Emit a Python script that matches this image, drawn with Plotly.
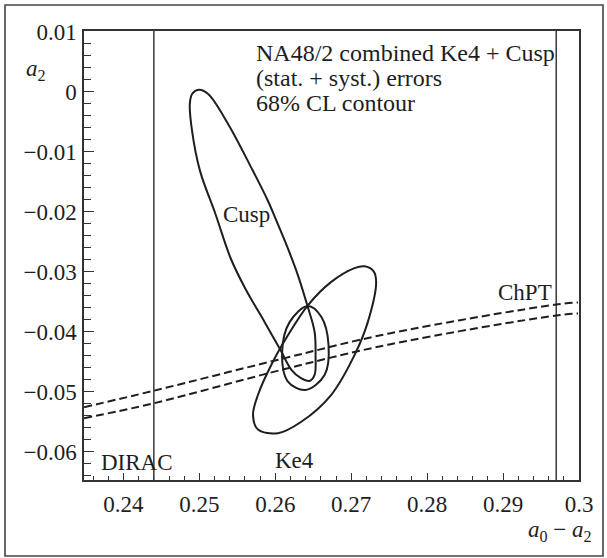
import plotly.graph_objects as go

# ---- data ----
cusp_x = [0.26451, 0.26517, 0.26530, 0.26517, 0.26421, 0.26298, 0.26211, 0.26123, 0.26014,
          0.25899, 0.25685, 0.25374, 0.25115, 0.24990, 0.24904, 0.24874, 0.24903, 0.25008,
          0.25209, 0.25413, 0.25604, 0.25860, 0.26070, 0.26215, 0.26333, 0.26451]
cusp_y = [-0.0482, -0.0472, -0.0439, -0.0400, -0.0356, -0.0306, -0.0276, -0.0248, -0.0215,
          -0.0181, -0.0127, -0.0053, -0.0004, 0.0003, -0.0004, -0.0020, -0.0065, -0.0132,
          -0.0203, -0.0278, -0.0328, -0.0384, -0.0431, -0.0464, -0.0477, -0.0482]

ke4_x = [0.27328, 0.27218, 0.27043, 0.26737, 0.26342, 0.26035, 0.25772, 0.25706, 0.25772,
         0.25948, 0.26166, 0.26429, 0.26737, 0.27043, 0.27174, 0.27293, 0.27328]
ke4_y = [-0.0317, -0.0384, -0.0439, -0.0505, -0.0550, -0.0569, -0.0563, -0.0539, -0.0505,
         -0.0455, -0.0406, -0.0356, -0.0317, -0.0294, -0.0291, -0.0299, -0.0317]

comb_x = [0.26701, 0.26649, 0.26399, 0.26166, 0.26090, 0.26188, 0.26429, 0.26605, 0.26701]
comb_y = [-0.0422, -0.0472, -0.0497, -0.0483, -0.0434, -0.0384, -0.0357, -0.0375, -0.0422]

chpt_x = [0.23481, 0.24401, 0.26110, 0.27503, 0.29698, 0.29987]
chpt_upper = [-0.05257, -0.04982, -0.04444, -0.04028, -0.03547, -0.03513]
chpt_lower = [-0.05440, -0.05191, -0.04626, -0.04211, -0.03729, -0.03696]

dirac_bounds = [0.244, 0.297]

x_range = [0.2348, 0.3]
y_range = [-0.0647, 0.0101]

# ---- figure ----
W, H = 607, 558
L, R, T, B = 84, 28, 31, 78
PW, PH = W - L - R, H - T - B

def px(x):
    return (x - L) / PW

def py(y):
    return (H - B - y) / PH

FONT = "Liberation Serif, Times New Roman, serif"
INK = "#1e1e1e"

fig = go.Figure()

for xb in dirac_bounds:
    fig.add_trace(go.Scatter(x=[xb, xb], y=y_range, mode="lines",
                             line=dict(color="#2a2a2a", width=1.4),
                             showlegend=False, hoverinfo="skip"))

for yy in (chpt_upper, chpt_lower):
    fig.add_trace(go.Scatter(x=chpt_x, y=yy, mode="lines",
                             line=dict(color=INK, width=2.0, dash="8px,4px", shape="spline"),
                             showlegend=False, name="ChPT"))

for xs, ys, nm in ((cusp_x, cusp_y, "Cusp"), (ke4_x, ke4_y, "Ke4"), (comb_x, comb_y, "combined")):
    fig.add_trace(go.Scatter(x=xs, y=ys, mode="lines", name=nm,
                             line=dict(color=INK, width=2.0, shape="spline", smoothing=1.0),
                             showlegend=False))

axis_common = dict(showline=True, linecolor="#333333", linewidth=1.5, mirror=True,
                   showgrid=False, zeroline=False, ticks="inside", tickcolor="#333333",
                   tickwidth=1.3, tickfont=dict(family=FONT, size=23, color=INK))

fig.update_xaxes(range=x_range, tick0=0.24, dtick=0.01, ticklen=7,
                 minor=dict(dtick=0.002, tick0=0.24, ticks="inside", ticklen=4,
                            tickcolor="#333333", tickwidth=1.2),
                 ticklabelstandoff=3, **axis_common)
fig.update_yaxes(range=y_range, tick0=0, dtick=0.01, ticklen=10,
                 minor=dict(dtick=0.002, tick0=0, ticks="inside", ticklen=7,
                            tickcolor="#333333", tickwidth=1.2),
                 ticklabelstandoff=1, **axis_common)

def label(text, x, y, xanchor="center", yanchor="middle", size=23):
    fig.add_annotation(text=text, x=px(x), y=py(y), xref="paper", yref="paper",
                       xanchor=xanchor, yanchor=yanchor, showarrow=False,
                       font=dict(family=FONT, size=size, color=INK))

label("NA48/2 combined Ke4 + Cusp", 254, 53, xanchor="left", size=24)
label("(stat. + syst.) errors", 254, 78, xanchor="left", size=24)
label("68% CL contour", 254, 103, xanchor="left", size=24)
label("Cusp", 246, 214)
label("Ke4", 294, 460)
label("DIRAC", 137, 462)
label("ChPT", 525, 292)
label("<i>a</i><sub>2</sub>", 36, 70)
label("<i>a</i><sub>0</sub> \u2212 <i>a</i><sub>2</sub>", 594, 531, xanchor="right")

# outer frame
fig.add_shape(type="rect", xref="paper", yref="paper",
              x0=px(5), x1=px(603), y0=py(556), y1=py(5),
              line=dict(color="#444444", width=1.6))

fig.update_layout(width=W, height=H, margin=dict(l=L, r=R, t=T, b=B),
                  paper_bgcolor="white", plot_bgcolor="white",
                  font=dict(family=FONT, color=INK), showlegend=False)

fig.write_html("out.html", config={"displayModeBar": False},
               post_script="document.body.style.margin='0px';")
